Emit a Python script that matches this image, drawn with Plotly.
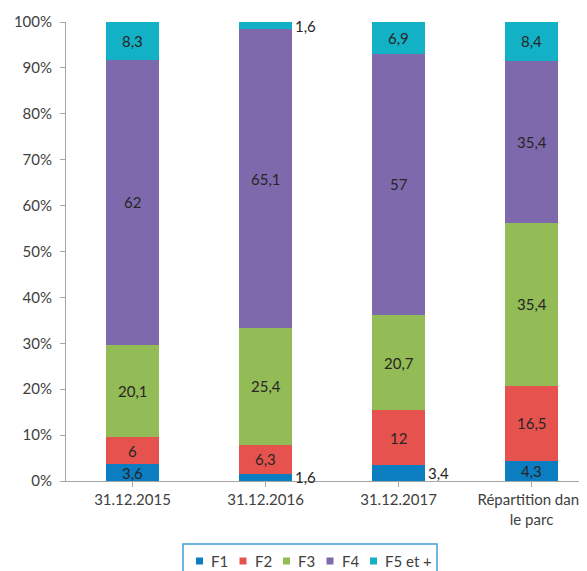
import plotly.graph_objects as go

categories = ["31.12.2015", "31.12.2016", "31.12.2017", "Répartition dans<br>le parc"]
series_names = ["F1", "F2", "F3", "F4", "F5 et +"]
f1 = [3.6, 1.6, 3.4, 4.3]
f2 = [6, 6.3, 12, 16.5]
f3 = [20.1, 25.4, 20.7, 35.4]
f4 = [62, 65.1, 57, 35.4]
f5 = [8.3, 1.6, 6.9, 8.4]
series_values = [f1, f2, f3, f4, f5]
colors = ["#0b7dc1", "#e6534f", "#93bb56", "#7e69ad", "#13b1c6"]
y_ticks = [0, 10, 20, 30, 40, 50, 60, 70, 80, 90, 100]
# labels placed to the right of the bar (series index, category index)
outside = {(0, 1), (4, 1), (0, 2)}

FONT = "Lato"
W, H = 587, 571
OFF = 8  # page body margin offset
PL, PT, PW, PH = 66, 22, W - (66 - OFF), 459  # plot area on screen


def px(sx):
    return (sx - PL) / PW


def py(sy):
    return (PT + PH - sy) / PH


fig = go.Figure()
for name, vals, col in zip(series_names, series_values, colors):
    fig.add_trace(go.Bar(x=list(range(len(categories))), y=vals, name=name,
                         marker=dict(color=col, line=dict(width=0)),
                         width=0.4, showlegend=False))

annotations = []
for ci in range(len(categories)):
    base = 0
    for si, vals in enumerate(series_values):
        v = vals[ci]
        mid = base + v / 2
        txt = str(v).replace(".", ",")
        if (si, ci) in outside:
            annotations.append(dict(x=ci + 0.2, y=mid, xref="x", yref="y", text=txt,
                                    showarrow=False, xanchor="left", yanchor="middle",
                                    xshift=1, font=dict(family=FONT, size=15, color="#262626")))
        else:
            annotations.append(dict(x=ci, y=mid, xref="x", yref="y", text=txt,
                                    showarrow=False, xanchor="center", yanchor="middle",
                                    font=dict(family=FONT, size=15, color="#262626")))
        base += v

# legend (drawn as box + swatches + labels below the plot)
shapes = [dict(type="rect", xref="paper", yref="paper",
               x0=px(183), x1=px(437), y0=py(590), y1=py(544),
               line=dict(color="#3f9fd6", width=1.5), fillcolor="white", layer="above")]
leg_x0, leg_step = 196, 43.5
for i, (name, col) in enumerate(zip(series_names, colors)):
    sx = leg_x0 + i * leg_step
    shapes.append(dict(type="rect", xref="paper", yref="paper",
                       x0=px(sx), x1=px(sx + 7), y0=py(564.5), y1=py(557.5),
                       line=dict(width=0), fillcolor=col, layer="above"))
    annotations.append(dict(x=px(sx + 13), y=py(561), xref="paper", yref="paper",
                            text=name, showarrow=False, xanchor="left", yanchor="middle",
                            font=dict(family=FONT, size=15, color="#404040")))

fig.update_layout(
    barmode="stack",
    width=W, height=H,
    margin=dict(l=PL - OFF, r=0, t=PT - OFF, b=H - (PT - OFF) - PH),
    plot_bgcolor="white", paper_bgcolor="white",
    font=dict(family=FONT, size=15, color="#404040"),
    annotations=annotations,
    shapes=shapes,
    showlegend=False,
    xaxis=dict(range=[-0.5, 3.477], tickmode="array", tickvals=list(range(len(categories))),
               ticktext=categories, showline=True, linecolor="#a6a6a6", linewidth=1,
               ticks="outside", tickson="boundaries", ticklen=5, tickcolor="#a6a6a6",
               showgrid=False, zeroline=False, automargin=False),
    yaxis=dict(range=[0, 100], tickmode="array", tickvals=y_ticks,
               ticktext=[f"{t}%" for t in y_ticks], showline=True, linecolor="#a6a6a6",
               linewidth=1, ticks="outside", ticklen=5, tickcolor="#a6a6a6",
               showgrid=False, zeroline=False, ticklabelstandoff=5, automargin=False),
)

fig.write_html("out.html")
